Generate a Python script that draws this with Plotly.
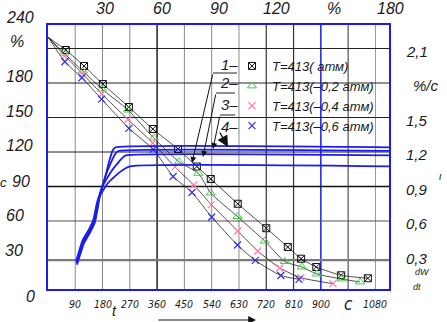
import plotly.graph_objects as go

# ---------------- data ----------------
# drying curves: moisture W (%) vs time t (s)
t_start = 0
w_start = 220
t1 = [59, 119, 181, 267, 346, 429, 491, 537, 626, 720, 791, 835, 885, 967, 1055]
w1 = [208.7, 194.8, 179.1, 159.1, 140, 122.6, 107.4, 96.5, 75, 53.7, 37.4, 27.2, 20, 12.8, 10.2]
t2 = [53, 115, 178, 264, 349, 432, 496, 537, 625, 715, 781, 837, 887, 968, 1029]
w2 = [206, 190.4, 174.8, 156.5, 132.2, 111.5, 101.5, 84.3, 63.9, 42.6, 24.8, 20, 13.9, 9.6, 7]
t3 = [56, 115, 178, 264, 346, 419, 481, 539, 626, 692, 765, 834, 940]
w3 = [203.5, 187.8, 170.4, 148.3, 127.8, 107, 91.3, 74.3, 51.3, 33.9, 19.1, 10.7, 5.5]
t4 = [56, 112, 177, 267, 347, 413, 475, 540, 625, 684, 768, 828]
w4 = [198.5, 184.6, 166, 140.6, 122.3, 98.7, 84.8, 63.5, 39.1, 25.7, 12.6, 9.3]
names = ["T=413( атм)", "T=413(–0,2 атм)", "T=413(–0,4 атм)", "T=413(–0,6 атм)"]
series_labels = ["1–", "2–", "3–", "4–"]

# drying-rate curves dW/dt (%/с) vs t
T_END = 1128
rt1 = [93, 114, 137, 151, 161, 174, 185, 201, 214, 223, T_END]
rv1 = [0.25, 0.43, 0.535, 0.62, 0.75, 0.86, 0.94, 1.11, 1.215, 1.24, 1.24]
rt2 = [94, 116, 139, 152, 162, 175, 181, 204, 224, 234, T_END]
rv2 = [0.24, 0.42, 0.525, 0.61, 0.74, 0.85, 0.92, 1.085, 1.19, 1.21, 1.21]
rt3 = [95, 117, 140, 154, 164, 178, 211, 244, 257, T_END]
rv3 = [0.23, 0.41, 0.515, 0.60, 0.73, 0.89, 1.04, 1.145, 1.17, 1.17]
rt4 = [96, 118, 141, 155, 165, 171, 198, 237, 270, T_END]
rv4 = [0.22, 0.40, 0.51, 0.59, 0.72, 0.815, 0.93, 1.025, 1.075, 1.075]

# axes / tick labels
X_MIN, X_MAX = -3, 1128
Y_MAX = 231.3
R_MAX = Y_MAX / 100
bottom_ticks = [90, 180, 270, 360, 450, 540, 630, 720, 810, 900, 990, 1080]
bottom_labels = ["90", "180", "270", "360", "450", "540", "630", "720", "810", "900", "с", "1080"]
left_ticks = [0, 30, 60, 90, 120, 150, 180, 210, 240]
left_labels = ["0", "30", "60", "90", "120", "150", "180", "%", "240"]
right_ticks = [0.3, 0.6, 0.9, 1.2, 1.5, 1.8, 2.1]
right_labels = ["0,3", "0,6", "0,9", "1,2", "1,5", "%/с", "2,1"]
top_ticks = [30, 60, 90, 120, 150, 180]
top_labels = ["30", "60", "90", "120", "%", "180"]
TOP_MIN, TOP_MAX = -0.5, 179.5
h_grid = [26, 60, 90, 120, 150, 180, 210]

# ---------------- styles ----------------
W, H = 447, 322
L, R, T, B = 47, 390, 24, 290
FONT = "Liberation Sans, Arial, sans-serif"
NARROW = "DejaVu Sans Condensed, Liberation Sans, sans-serif"
TXT = "#1a1a1a"
BLUE = "#1c1cf0"
marker_styles = [
    dict(symbol="square-x-open", color="#111111", size=7, line=dict(width=1)),
    dict(symbol="triangle-up-open", color="#44cc44", size=8, line=dict(width=1)),
    dict(symbol="x-thin-open", color="#ff7fa8", size=7, line=dict(width=1.2, color="#ff7fa8")),
    dict(symbol="x-thin-open", color="#3030ee", size=7, line=dict(width=1.2, color="#3030ee")),
]
v_grid_colors = ["#8a8a8a", "#8a8a8a", "#8a8a8a", "#222222", "#8a8a8a", "#8a8a8a",
                 "#8a8a8a", "#333333", "#333333", BLUE, "#555555", "#9a9a9a"]
v_grid_widths = [1, 1, 1, 1.5, 1, 1, 1, 1.2, 1.2, 1.5, 1.2, 1]
h_grid_colors = ["#7a7a7a", "#555555", "#111111", "#222222", "#222222", "#222222", "#222222"]
h_grid_widths = [2.2, 1.2, 1.6, 1, 1, 1, 1]


def px(x):
    return (x - L) / (R - L)


def py(y):
    return (B - y) / (B - T)


fig = go.Figure()

# drying curves: lines
for tt, ww in [(t1, w1), (t2, w2), (t3, w3), (t4, w4)]:
    fig.add_trace(go.Scatter(x=[t_start] + tt, y=[w_start] + ww, mode="lines",
                             line=dict(color="#222222", width=0.8, shape="spline", smoothing=0.6),
                             showlegend=False, hoverinfo="skip"))

# rate curves (right axis)
for tt, vv in [(rt1, rv1), (rt2, rv2), (rt3, rv3), (rt4, rv4)]:
    fig.add_trace(go.Scatter(x=tt, y=vv, yaxis="y2", mode="lines",
                             line=dict(color=BLUE, width=1.8, shape="spline", smoothing=0.4),
                             showlegend=False, hoverinfo="skip"))

# markers
for tt, ww, nm, ms in zip([t1, t2, t3, t4], [w1, w2, w3, w4], names, marker_styles):
    fig.add_trace(go.Scatter(x=tt, y=ww, mode="markers", name=nm, marker=ms))

shapes = []
for v, c, wd in zip(bottom_ticks, v_grid_colors, v_grid_widths):
    shapes.append(dict(type="line", xref="x", yref="paper", x0=v, x1=v, y0=0, y1=1,
                       line=dict(color=c, width=wd), layer="below"))
for v, c, wd in zip(h_grid, h_grid_colors, h_grid_widths):
    shapes.append(dict(type="line", xref="paper", yref="y", x0=0, x1=1, y0=v, y1=v,
                       line=dict(color=c, width=wd), layer="below"))
shapes.append(dict(type="rect", xref="paper", yref="paper", x0=0, x1=1, y0=0, y1=1,
                   line=dict(color=BLUE, width=2)))
# leader brackets
for (x0, x1, y) in [(213, 237, 73), (216, 235, 93), (220, 235, 115)]:
    shapes.append(dict(type="line", xref="paper", yref="paper", x0=px(x0), x1=px(x1),
                       y0=py(y), y1=py(y), line=dict(color="#222", width=1)))
fig.update_layout(shapes=shapes)

ann = []


def label(x, y, text, size=15, family=FONT):
    ann.append(dict(x=px(x), y=py(y), xref="paper", yref="paper", text=text, showarrow=False,
                    xanchor="center", yanchor="middle",
                    font=dict(family=family, size=size, color=TXT, style="italic")))


# bottom tick labels
for v, s in zip(bottom_ticks, bottom_labels):
    ann.append(dict(x=v, y=py(304), xref="x", yref="paper", text=s, showarrow=False,
                    xanchor="center", yanchor="middle",
                    font=dict(family=NARROW, size=17 if s == "с" else 10.5, color=TXT,
                              style="italic")))
# left tick labels
left_x = [30, 14, 15, 21, 20, 20, 20, 17, 20]
left_shift = [-6, 5, 5, 5, 6, 6, 6, 7, -4]
for v, s, xx, sh in zip(left_ticks, left_labels, left_x, left_shift):
    ann.append(dict(x=px(xx), y=v / Y_MAX, xref="paper", yref="paper", text=s, showarrow=False,
                    xanchor="center", yanchor="middle", yshift=sh,
                    font=dict(family=FONT, size=16, color=TXT, style="italic")))
# right tick labels
for v, s in zip(right_ticks, right_labels):
    ann.append(dict(x=px(426 if "/" in s else 417), y=v / R_MAX, xref="paper", yref="paper",
                    text=s, showarrow=False, xanchor="center", yanchor="middle", yshift=-3,
                    font=dict(family=FONT, size=15, color=TXT, style="italic")))
# top tick labels
for v, s in zip(top_ticks, top_labels):
    ann.append(dict(x=(v - TOP_MIN) / (TOP_MAX - TOP_MIN), y=py(9), xref="paper", yref="paper",
                    text=s, showarrow=False, xanchor="center", yanchor="middle",
                    font=dict(family=FONT, size=16, color=TXT, style="italic")))

label(4, 182, "c", 13)
label(114, 311, "t", 14)
label(422, 272, "dW", 9)
label(417, 287, "dt", 9)
label(441, 176, "ι", 11)
for yy, s in zip([64, 83, 104, 126], series_labels):
    label(229, yy, s, 15)

# leader arrows (tail pixel -> head pixel)
for (xt, yt, xh, yh, wd, hs) in [(213, 73, 192, 163, 1, 1.2), (216, 93, 203, 157, 1, 1.2),
                                  (220, 115, 213, 149, 1, 1.2), (219, 131, 228, 147, 1.4, 1.6)]:
    ann.append(dict(x=px(xh), y=py(yh), ax=xt - xh, ay=yt - yh, xref="paper", yref="paper",
                    axref="pixel", ayref="pixel", text="", showarrow=True, arrowhead=2,
                    arrowsize=hs, arrowwidth=wd, arrowcolor="#111"))
# bottom arrow
ann.append(dict(x=px(256), y=py(320), ax=157 - 256, ay=0, xref="paper", yref="paper",
                axref="pixel", ayref="pixel", text="", showarrow=True, arrowhead=2,
                arrowsize=1.3, arrowwidth=1.2, arrowcolor="#111"))

fig.update_layout(
    annotations=ann,
    width=W, height=H,
    margin=dict(l=L, r=W - R, t=T, b=H - B),
    paper_bgcolor="white", plot_bgcolor="white",
    xaxis=dict(range=[X_MIN, X_MAX], showgrid=False, zeroline=False, showticklabels=False,
               ticks="", showline=False),
    yaxis=dict(range=[0, Y_MAX], showgrid=False, zeroline=False, showticklabels=False,
               ticks="", showline=False),
    yaxis2=dict(range=[0, R_MAX], overlaying="y", side="right", showgrid=False, zeroline=False,
                showticklabels=False, ticks="", showline=False),
    legend=dict(x=px(232), y=py(51), xanchor="left", yanchor="top", bgcolor="rgba(0,0,0,0)",
                font=dict(family=FONT, size=13, color=TXT, style="italic"),
                itemwidth=30, tracegroupgap=0),
    showlegend=True,
)

fig.write_html("out.html", post_script="document.body.style.margin='0px';",
               config={"displayModeBar": False})
